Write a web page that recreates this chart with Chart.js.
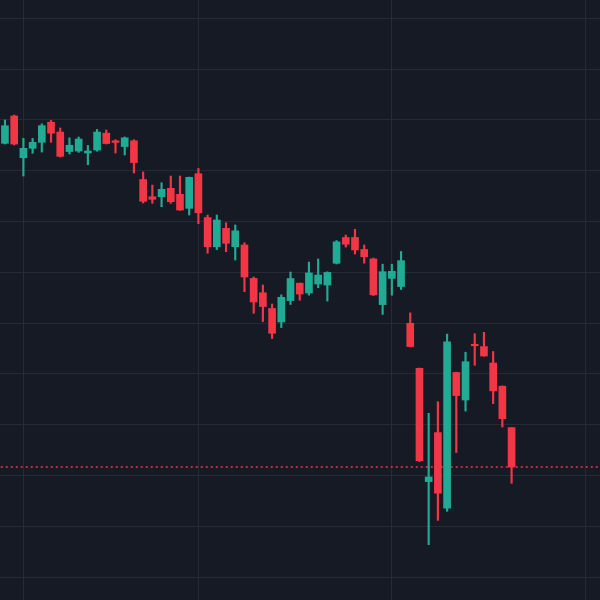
<!DOCTYPE html>
<html>
<head>
<meta charset="utf-8">
<script src="https://cdn.jsdelivr.net/npm/chart.js@4"></script>
<style>
  html, body { margin: 0; padding: 0; background: #161a25; }
  #chart { display: block; background: #161a25; }
</style>
</head>
<body>
<canvas id="chart" width="600" height="600"></canvas>
<script>
// daily OHLC
const opens = [4577.0, 4603.9, 4562.8, 4572.1, 4578.0, 4597.8, 4588.1, 4568.9, 4569.4, 4567.5,
    4570.4, 4587.0, 4579.5, 4573.8, 4579.5, 4541.4, 4524.4, 4524.4, 4532.7, 4526.8,
    4513.0, 4547.1, 4503.9, 4475.1, 4493.3, 4475.2, 4476.9, 4444.0, 4429.9, 4414.4,
    4401.1, 4422.2, 4439.3, 4429.6, 4438.5, 4437.5, 4458.9, 4484.3, 4484.3, 4472.5,
    4463.2, 4418.2, 4444.0, 4436.0, 4399.8, 4355.5, 4244.0, 4292.2, 4217.7, 4351.4,
    4324.3, 4379.1, 4376.9, 4360.7, 4337.9, 4297.1];
const highs = [4600.0, 4604.9, 4581.9, 4581.9, 4596.2, 4599.5, 4592.1, 4582.4, 4583.2, 4574.9,
    4590.7, 4590.1, 4580.6, 4583.2, 4580.6, 4548.8, 4535.9, 4538.2, 4544.8, 4544.8,
    4543.8, 4552.3, 4506.4, 4506.4, 4498.8, 4496.6, 4479.1, 4445.4, 4437.5, 4418.8,
    4427.8, 4450.3, 4439.5, 4460.1, 4463.1, 4450.5, 4481.3, 4486.7, 4492.3, 4476.9,
    4464.1, 4458.0, 4458.0, 4470.5, 4410.1, 4355.8, 4311.2, 4322.6, 4389.2, 4351.8,
    4371.3, 4389.6, 4390.9, 4372.0, 4338.1, 4297.2];
const lows = [4576.3, 4575.3, 4544.8, 4567.2, 4568.4, 4578.0, 4563.5, 4566.5, 4568.1, 4556.0,
    4569.2, 4576.3, 4567.5, 4565.5, 4547.8, 4518.2, 4517.9, 4514.6, 4517.9, 4511.0,
    4506.4, 4497.9, 4468.8, 4472.4, 4470.3, 4462.1, 4430.9, 4409.7, 4401.5, 4384.8,
    4395.6, 4418.3, 4422.5, 4427.6, 4434.8, 4421.7, 4458.2, 4474.9, 4468.0, 4459.0,
    4427.2, 4408.5, 4427.5, 4433.1, 4376.7, 4263.7, 4181.9, 4205.8, 4214.7, 4272.6,
    4313.4, 4358.5, 4367.4, 4320.8, 4297.7, 4242.3];
const closes = [4594.3, 4576.3, 4572.1, 4578.0, 4594.4, 4587.0, 4564.2, 4575.1, 4581.2, 4569.4,
    4588.1, 4576.8, 4577.9, 4582.4, 4558.0, 4519.9, 4521.9, 4531.7, 4519.5, 4511.3,
    4543.5, 4508.6, 4475.1, 4501.5, 4478.6, 4490.9, 4445.4, 4420.8, 4416.3, 4390.0,
    4425.4, 4443.9, 4428.6, 4449.4, 4447.3, 4449.9, 4480.0, 4477.7, 4472.0, 4465.3,
    4427.8, 4450.6, 4451.0, 4461.5, 4376.9, 4264.6, 4248.5, 4232.5, 4381.6, 4328.7,
    4362.0, 4377.7, 4367.6, 4333.3, 4305.9, 4258.3];

// vertical grid lines sit on these bar indices (month starts)
const monthTicks = [2, 21, 42, 63];
const priceStep = 50;

const UP = '#22ab94';
const DOWN = '#f23645';
const GRID = '#252a36';

const colors = closes.map((c, i) => c >= opens[i] ? UP : DOWN);
const lastClose = closes[closes.length - 1];

new Chart(document.getElementById('chart').getContext('2d'), {
    type: 'bar',
    data: {
        datasets: [{
            label: 'body',
            data: closes.map((c, i) => ({ x: i, y: [opens[i], c] })),
            backgroundColor: colors,
            barThickness: 7,
            minBarLength: 1.5,
            grouped: false,
            order: 1
        }, {
            label: 'wick',
            data: lows.map((l, i) => ({ x: i, y: [l, highs[i]] })),
            backgroundColor: colors,
            barThickness: 1.5,
            grouped: false,
            order: 2
        }, {
            type: 'line',
            label: 'last',
            data: [{ x: -1, y: lastClose }, { x: 66, y: lastClose }],
            borderColor: DOWN,
            borderWidth: 1.5,
            borderDash: [2, 3],
            pointRadius: 0,
            order: 3
        }]
    },
    options: {
        responsive: false,
        animation: false,
        layout: { padding: 0 },
        plugins: {
            legend: { display: false },
            tooltip: { enabled: false }
        },
        scales: {
            x: {
                type: 'linear',
                min: -0.54,
                max: 64.6,
                offset: false,
                afterBuildTicks: function (scale) {
                    scale.ticks = monthTicks.map(v => ({ value: v }));
                },
                ticks: { display: false },
                grid: { color: GRID, drawTicks: false, offset: false },
                border: { display: false }
            },
            y: {
                min: 4127.4,
                max: 4718.1,
                ticks: { display: false, stepSize: priceStep, includeBounds: false },
                grid: { color: GRID, drawTicks: false },
                border: { display: false }
            }
        }
    }
});
</script>
</body>
</html>
